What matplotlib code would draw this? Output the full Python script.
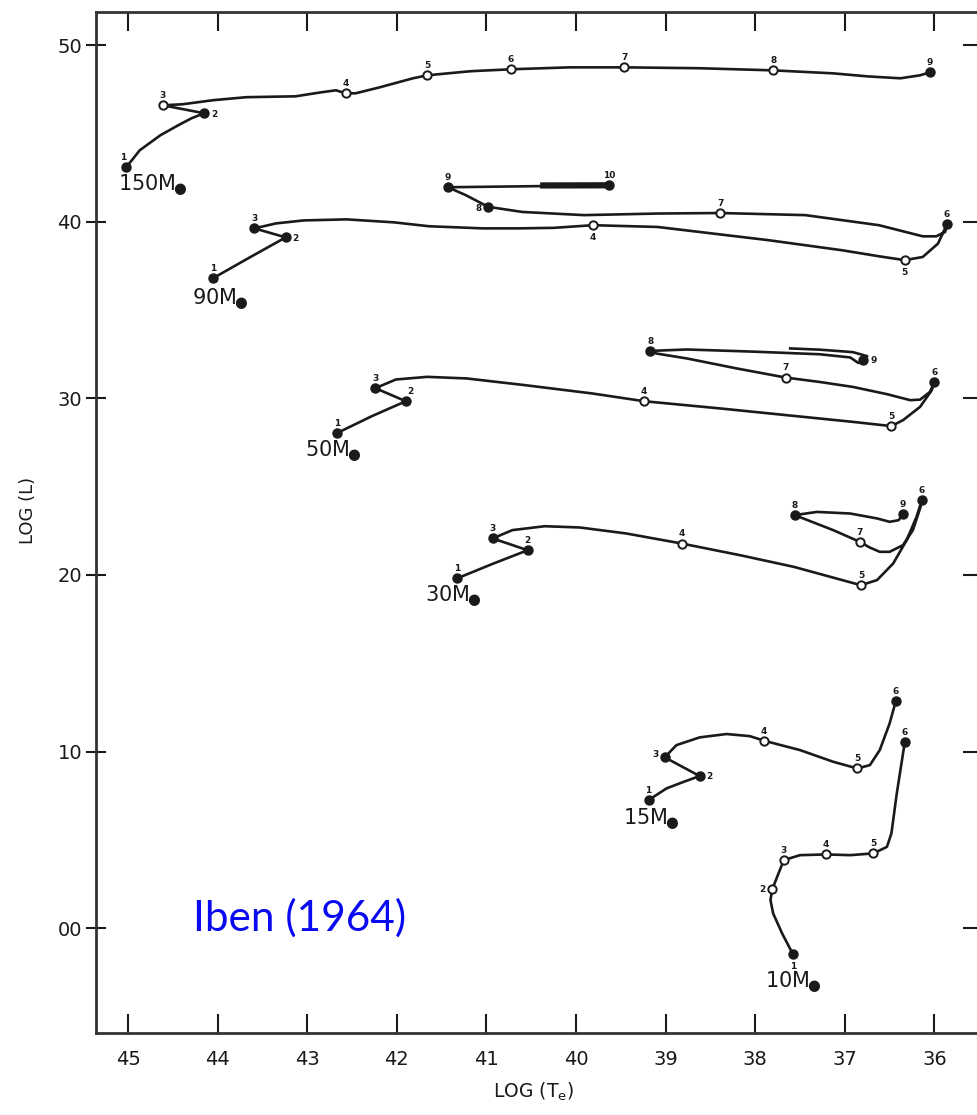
import numpy as np
import matplotlib.pyplot as plt

# Evolutionary tracks (log Te, log L) for each stellar mass
t150_logT = [4.502, 4.487, 4.464, 4.444, 4.429, 4.415, 4.461, 4.439, 4.405, 4.368,
             4.313, 4.284, 4.268, 4.257, 4.246, 4.219, 4.182, 4.166, 4.118, 4.073,
             4.007, 3.946, 3.862, 3.780, 3.713, 3.675, 3.638, 3.616, 3.605]
t150_logL = [4.309, 4.405, 4.490, 4.547, 4.587, 4.615, 4.660, 4.666, 4.689, 4.706,
             4.711, 4.734, 4.745, 4.728, 4.728, 4.762, 4.813, 4.830, 4.853, 4.864,
             4.875, 4.875, 4.870, 4.858, 4.841, 4.824, 4.813, 4.830, 4.847]
t150_marks = [0, 5, 6, 13, 17, 19, 21, 23, 28]
t150_filled = [1, 1, 0, 0, 0, 0, 0, 0, 1]

t90_logT = [4.405, 4.364, 4.324, 4.359, 4.335, 4.304, 4.256, 4.203, 4.164, 4.104,
            4.064, 4.025, 3.981, 3.909, 3.785, 3.703, 3.662, 3.633, 3.613, 3.596,
            3.586, 3.588, 3.598, 3.613, 3.662, 3.744, 3.839, 3.909, 3.991, 4.060,
            4.098, 4.123, 4.143, 3.963]
t90_logL = [3.681, 3.799, 3.912, 3.963, 3.991, 4.008, 4.014, 3.997, 3.975, 3.963,
            3.963, 3.966, 3.981, 3.971, 3.896, 3.839, 3.805, 3.783, 3.801, 3.877,
            3.986, 3.943, 3.918, 3.918, 3.981, 4.038, 4.050, 4.047, 4.038, 4.056,
            4.085, 4.151, 4.196, 4.207]
t90_marks = [0, 2, 3, 12, 17, 20, 26, 30, 32, 33]
t90_filled = [1, 1, 1, 0, 0, 1, 0, 1, 1, 1]
# repeated back-and-forth stretch between points 9 and 10
t90_dense_logT = [4.040, 3.963]
t90_dense_logL = [4.206, 4.207]

t50_logT = [4.267, 4.228, 4.190, 4.224, 4.201, 4.166, 4.122, 4.057, 3.982, 3.924,
            3.839, 3.765, 3.691, 3.648, 3.635, 3.616, 3.603, 3.600, 3.605, 3.616,
            3.627, 3.653, 3.691, 3.728, 3.766, 3.820, 3.876, 3.910, 3.917, 3.876,
            3.803, 3.728, 3.694, 3.685, 3.680, 3.675, 3.691, 3.728, 3.761]
t50_logL = [2.803, 2.899, 2.984, 3.058, 3.107, 3.122, 3.113, 3.075, 3.028, 2.984,
            2.943, 2.905, 2.867, 2.843, 2.877, 2.952, 3.046, 3.093, 3.037, 2.993,
            2.990, 3.024, 3.065, 3.093, 3.118, 3.169, 3.226, 3.254, 3.269, 3.277,
            3.265, 3.250, 3.232, 3.201, 3.216, 3.239, 3.262, 3.276, 3.283]
t50_marks = [0, 2, 3, 9, 13, 17, 24, 28, 34]
t50_filled = [1, 1, 1, 0, 0, 1, 0, 1, 1]

t30_logT = [4.133, 4.094, 4.054, 4.093, 4.071, 4.035, 3.996, 3.944, 3.882, 3.817,
            3.757, 3.682, 3.664, 3.646, 3.631, 3.620, 3.614, 3.616, 3.624, 3.635,
            3.650, 3.661, 3.672, 3.683, 3.713, 3.756, 3.731, 3.694, 3.664, 3.650,
            3.640, 3.635]
t30_logL = [1.980, 2.061, 2.140, 2.207, 2.254, 2.276, 2.269, 2.235, 2.178, 2.112,
            2.046, 1.942, 1.971, 2.065, 2.197, 2.329, 2.424, 2.377, 2.254, 2.169,
            2.131, 2.131, 2.155, 2.187, 2.254, 2.339, 2.357, 2.348, 2.320, 2.301,
            2.310, 2.344]
t30_marks = [0, 2, 3, 8, 11, 16, 23, 25, 31]
t30_filled = [1, 1, 1, 0, 0, 1, 0, 1, 1]

t15_logT = [3.919, 3.899, 3.880, 3.862, 3.901, 3.888, 3.862, 3.832, 3.806, 3.790,
            3.750, 3.713, 3.686, 3.672, 3.661, 3.650, 3.643]
t15_logL = [0.725, 0.791, 0.828, 0.861, 0.967, 1.036, 1.080, 1.099, 1.087, 1.061,
            1.008, 0.942, 0.904, 0.923, 1.008, 1.159, 1.287]
t15_marks = [0, 3, 4, 9, 12, 16]
t15_filled = [1, 1, 1, 0, 0, 1]

t10_logT = [3.758, 3.770, 3.780, 3.783, 3.781, 3.774, 3.768, 3.750, 3.721, 3.694,
            3.668, 3.653, 3.648, 3.642, 3.633]
t10_logL = [-0.147, -0.030, 0.083, 0.159, 0.219, 0.310, 0.385, 0.413, 0.417, 0.413,
            0.423, 0.460, 0.536, 0.763, 1.055]
t10_marks = [0, 4, 6, 8, 10, 14]
t10_filled = [1, 0, 0, 0, 0, 1]

masses = ['150', '90', '50', '30', '15', '10']

x_ticks = [4.5, 4.4, 4.3, 4.2, 4.1, 4.0, 3.9, 3.8, 3.7, 3.6]
x_ticklabels = ['45', '44', '43', '42', '41', '40', '39', '38', '37', '36']
y_ticks = [5.0, 4.0, 3.0, 2.0, 1.0, 0.0]
y_ticklabels = ['50', '40', '30', '20', '10', '00']

tracks = {
    '150': (t150_logT, t150_logL, t150_marks, t150_filled),
    '90': (t90_logT, t90_logL, t90_marks, t90_filled),
    '50': (t50_logT, t50_logL, t50_marks, t50_filled),
    '30': (t30_logT, t30_logL, t30_marks, t30_filled),
    '15': (t15_logT, t15_logL, t15_marks, t15_filled),
    '10': (t10_logT, t10_logL, t10_marks, t10_filled),
}

# where the mass names sit (left edge, vertical centre)
mass_label_pos = {
    '150': (4.511, 4.205), '90': (4.429, 3.560), '50': (4.303, 2.700),
    '30': (4.169, 1.878), '15': (3.948, 0.616), '10': (3.789, -0.307),
}
# point-number offsets in points, default is straight above
num_offsets = {
    ('150', '1'): (-2, 7), ('150', '2'): (7, -1),
    ('90', '2'): (7, -1), ('90', '4'): (0, -9), ('90', '5'): (0, -9),
    ('90', '8'): (-7, -1),
    ('50', '2'): (3, 7), ('50', '9'): (8, 0),
    ('15', '2'): (7, 0), ('15', '3'): (-7, 2),
    ('10', '1'): (0, -9), ('10', '2'): (-7, 0),
}

ink = '#1a1a1a'

fig = plt.figure(figsize=(9.78, 11.15), dpi=100)
ax = fig.add_axes([0.0982, 0.0735, 0.909, 0.9155])

for m in masses:
    lt, ll, marks, filled = tracks[m]
    ax.plot(lt, ll, color=ink, lw=1.9, solid_joinstyle='round', zorder=2)
    for k, (i, f) in enumerate(zip(marks, filled)):
        if f:
            ax.plot(lt[i], ll[i], 'o', ms=6.5, mfc=ink, mec=ink, zorder=4)
        else:
            ax.plot(lt[i], ll[i], 'o', ms=6, mfc='white', mec=ink, mew=1.4, zorder=4)
        num = str(k + 1)
        dx, dy = num_offsets.get((m, num), (0, 7))
        ax.annotate(num, (lt[i], ll[i]), xytext=(dx, dy), textcoords='offset points',
                    ha='center', va='center', fontsize=6.5, fontweight='bold',
                    color=ink, zorder=5)
    tx, ty = mass_label_pos[m]
    ax.text(tx, ty, m + 'M$_{\\!\u25cf}$', fontsize=15, color=ink, ha='left', va='center')

ax.plot(t90_dense_logT, t90_dense_logL, color=ink, lw=4.5, solid_capstyle='butt', zorder=3)

ax.text(4.4275, -0.017, 'Iben (1964)', family='Lato', fontsize=30.5,
        color='#0a0af0', ha='left', va='baseline')

ax.set_xlim(4.5357, 3.5435)
ax.set_ylim(-0.5946, 5.187)
ax.set_xticks(x_ticks)
ax.set_xticklabels(x_ticklabels)
ax.set_yticks(y_ticks)
ax.set_yticklabels(y_ticklabels)

ax.tick_params(axis='x', direction='in', length=14, width=1.5, top=True,
               labelsize=14, pad=12, colors=ink)
ax.tick_params(axis='y', direction='inout', length=14, width=1.5, right=False,
               labelsize=14, pad=3, colors=ink)
sec = ax.secondary_yaxis('right')
sec.set_yticks(y_ticks)
sec.tick_params(direction='in', length=16, width=1.5, labelright=False, colors=ink)
sec.spines['right'].set_linewidth(2)

for s in ax.spines.values():
    s.set_linewidth(2)
    s.set_color('#333333')

ax.set_ylabel('LOG (L)', fontsize=13, color=ink)
ax.yaxis.set_label_coords(-0.066, 0.512)
ax.set_xlabel('LOG (T$_{\\rm e}$)', fontsize=13.5, color=ink)
ax.xaxis.set_label_coords(0.4916, -0.047)

fig.savefig('out.png', dpi=100, facecolor='white')
